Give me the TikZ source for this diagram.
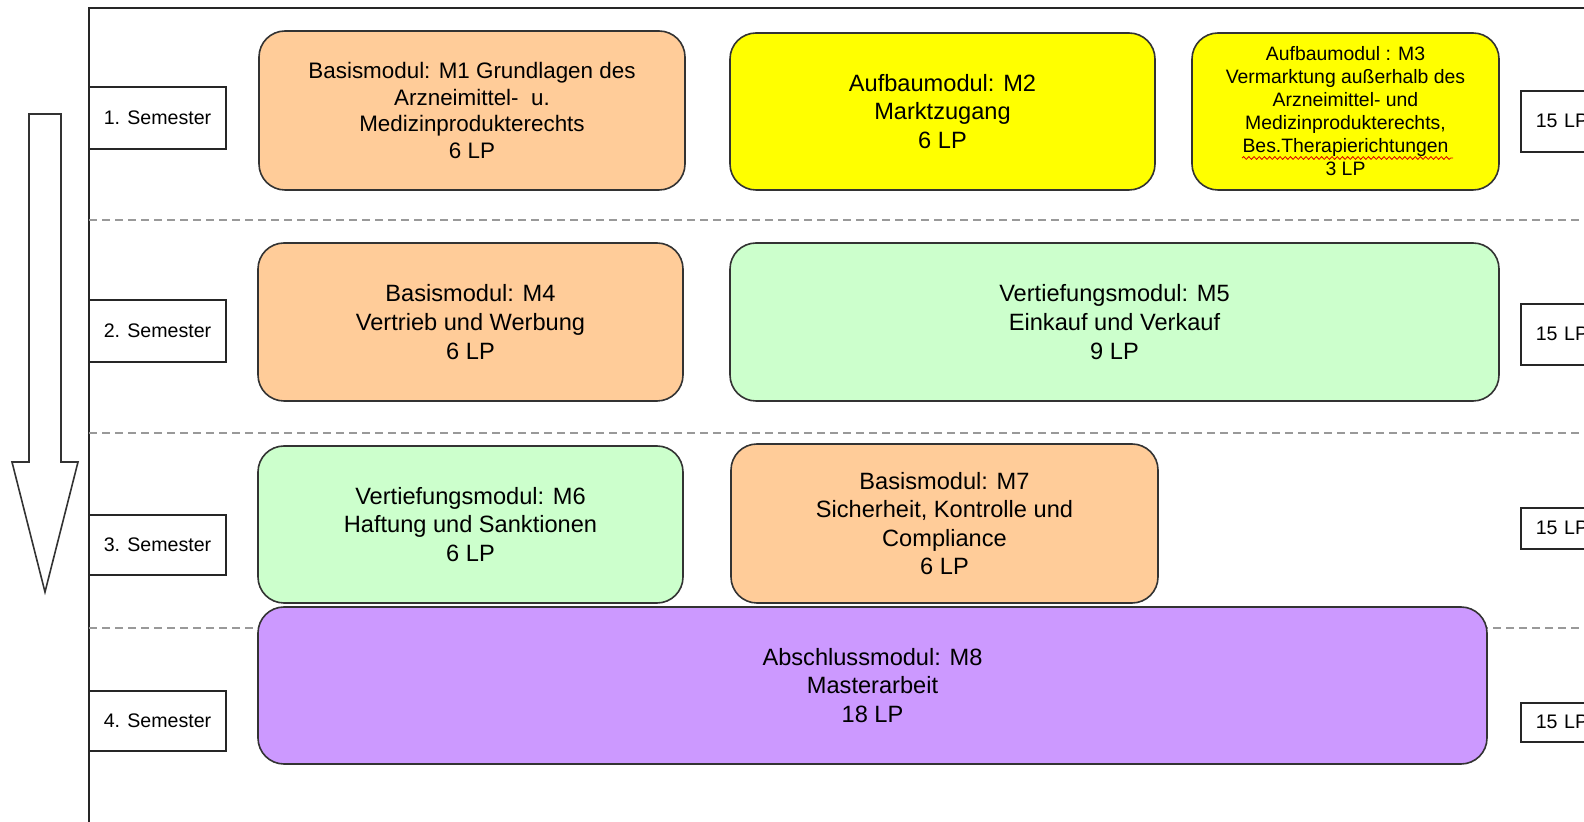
\documentclass[tikz,border=0pt]{standalone}
\usepackage{fontspec}
\setmainfont{Liberation Sans}
\usetikzlibrary{fit,decorations.pathmorphing}
\definecolor{peach}{HTML}{FFCC99}
\definecolor{yel}{HTML}{FFFF00}
\definecolor{lgreen}{HTML}{CCFFCC}
\definecolor{lpurple}{HTML}{CC99FF}
\begin{document}
\begin{tikzpicture}[x=0.5pt,y=-0.5pt,
  modbox/.style={draw=black!80, line width=0.8pt, rounded corners=13pt, inner sep=0pt},
  modtext/.style={inner sep=0pt, align=center, font=\fontsize{11.8}{14.3}\selectfont},
  sembox/.style={draw=black!85, line width=0.8pt, inner sep=0pt, fill=white},
  semtext/.style={inner sep=0pt, font=\fontsize{9.8}{12}\selectfont},
  lpbox/.style={draw=black!85, line width=0.8pt, fill=white, inner xsep=7.5pt, inner ysep=0pt, text width=60pt, align=left, font=\fontsize{9.8}{12}\selectfont},
  sepline/.style={draw=black!40, line width=0.75pt, dash pattern=on 4pt off 2.5pt},
]
\useasboundingbox (0,0) rectangle (1584,822);
\clip (0,0) rectangle (1584,822);
\fill[white] (0,0) rectangle (1584,822);

% frame
\draw[line width=1pt, black!85] (89,822) -- (89,8) -- (1584,8);

% separators
\draw[sepline] (89,220) -- (1584,220);
\draw[sepline] (89,433) -- (1584,433);
\draw[sepline] (89,628) -- (1584,628);

% time arrow
\draw[black!80, line width=0.8pt, fill=white, line join=miter]
  (29,114) -- (61,114) -- (61,462) -- (78,462) -- (45,592) -- (12,462) -- (29,462) -- cycle;

% semester labels
\node[sembox, fit={(89,87) (226,149)}] (s1) {};
\node[semtext] (s1t) at (s1.center) {1. Semester};
\node[sembox, fit={(89,300) (226,362)}] (s2) {};
\node[semtext] (s2t) at (s2.center) {2. Semester};
\node[sembox, fit={(89,515) (226,575)}] (s3) {};
\node[semtext] (s3t) at (s3.center) {3. Semester};
\node[sembox, fit={(89,691) (226,751)}] (s4) {};
\node[semtext] (s4t) at (s4.center) {4. Semester};

% LP boxes (cut at right edge)
\node[lpbox, minimum height=30.5pt, anchor=north west] (lp1) at (1520,90) {15 LP};
\node[lpbox, minimum height=30.5pt, anchor=north west] (lp2) at (1520,303) {15 LP};
\node[lpbox, minimum height=20.5pt, anchor=north west] (lp3) at (1520,507) {15 LP};
\node[lpbox, minimum height=19.5pt, anchor=north west] (lp4) at (1520,702) {15 LP};

% modules
\node[modbox, fill=peach, fit={(259,31) (685,190)}] (m1) {};
\node[modtext, font=\fontsize{11.2}{13.4}\selectfont] (m1t) at (m1.center)
  {Basismodul: M1 Grundlagen des\\Arzneimittel-~ u.\\Medizinprodukterechts\\6 LP};
\node[modbox, fill=yel, fit={(730,33) (1155,190)}] (m2) {};
\node[modtext] (m2t) at (m2.center) {Aufbaumodul: M2\\Marktzugang\\6 LP};
\node[modbox, fill=yel, fit={(1192,33) (1499,190)}] (m3) {};
\node[modtext, font=\fontsize{9.7}{11.5}\selectfont] (m3t) at (m3.center)
  {Aufbaumodul : M3\\Vermarktung außerhalb des\\Arzneimittel- und\\Medizinprodukterechts,\\Bes.Therapierichtungen\\3 LP};
\node[modbox, fill=peach, fit={(258,243) (683,401)}] (m4) {};
\node[modtext] (m4t) at (m4.center) {Basismodul: M4\\Vertrieb und Werbung\\6 LP};
\node[modbox, fill=lgreen, fit={(730,243) (1499,401)}] (m5) {};
\node[modtext] (m5t) at (m5.center) {Vertiefungsmodul: M5\\Einkauf und Verkauf\\9 LP};
\node[modbox, fill=lgreen, fit={(258,446) (683,603)}] (m6) {};
\node[modtext] (m6t) at (m6.center) {Vertiefungsmodul: M6\\Haftung und Sanktionen\\6 LP};
\node[modbox, fill=peach, fit={(731,444) (1158,603)}] (m7) {};
\node[modtext] (m7t) at (m7.center) {Basismodul: M7\\Sicherheit, Kontrolle und\\Compliance\\6 LP};
\node[modbox, fill=lpurple, fit={(258,607) (1487,764)}] (m8) {};
\node[modtext] (m8t) at (m8.center) {Abschlussmodul: M8\\Masterarbeit\\18 LP};

% spell-check underline
\draw[red!85!black, line width=0.4pt, decorate, decoration={snake, amplitude=0.7pt, segment length=2.6pt}]
  (1242,158) -- (1453,158);
\end{tikzpicture}
\end{document}
